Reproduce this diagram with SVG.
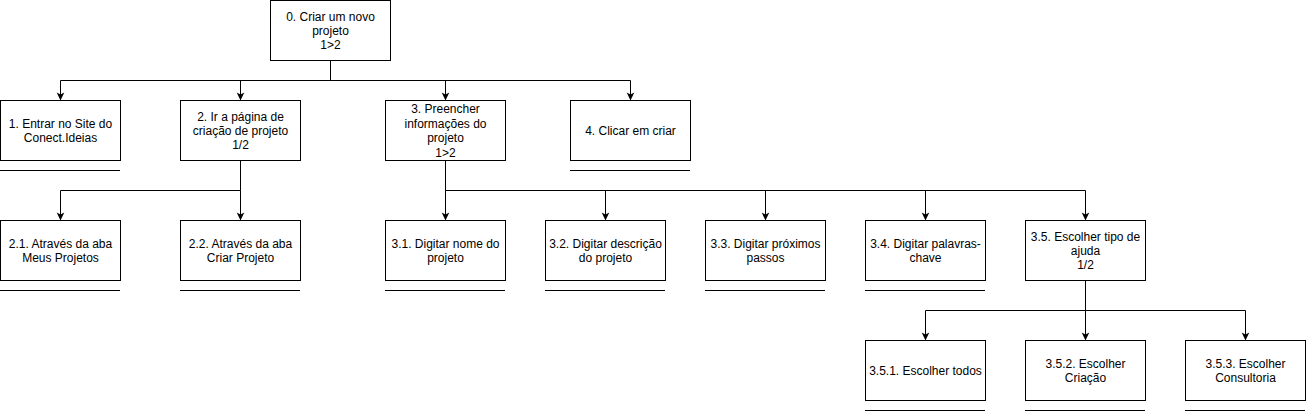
<svg xmlns="http://www.w3.org/2000/svg" width="1307" height="412" viewBox="0 0 1307 412">
<style>
.box{fill:#fff;stroke:#000;stroke-width:1}
.ul{stroke:#000;stroke-width:1;fill:none}
.c{fill:none;stroke:#000;stroke-width:1}
text{font-family:"Liberation Sans",Arial,Helvetica,sans-serif;font-size:12px;fill:#000;text-anchor:middle}
</style>
<defs>
<path id="ah" d="M0,0 l-3.8,-8 l3.8,2 l3.8,-2 z" fill="#000"/>
</defs>
<rect width="1307" height="412" fill="#fff"/>
<g id="connectors">
<path class="c" d="M330.5,60.5 V80.5 H60.5 V99.5"/>
<path class="c" d="M330.5,80.5 H240.5 V99.5"/>
<path class="c" d="M330.5,80.5 H445.5 V99.5"/>
<path class="c" d="M330.5,80.5 H630.5 V99.5"/>
<path class="c" d="M240.5,160.5 V190.5 H60.5 V219.5"/>
<path class="c" d="M240.5,190.5 V219.5"/>
<path class="c" d="M445.5,160.5 V219.5"/>
<path class="c" d="M445.5,190.5 H605.5 V219.5"/>
<path class="c" d="M445.5,190.5 H765.5 V219.5"/>
<path class="c" d="M445.5,190.5 H925.5 V219.5"/>
<path class="c" d="M445.5,190.5 H1085.5 V219.5"/>
<path class="c" d="M1085.5,280.5 V310.5 H925.5 V339.5"/>
<path class="c" d="M1085.5,310.5 V339.5"/>
<path class="c" d="M1085.5,310.5 H1245.5 V339.5"/>
<use href="#ah" x="60.5" y="100.5"/>
<use href="#ah" x="240.5" y="100.5"/>
<use href="#ah" x="445.5" y="100.5"/>
<use href="#ah" x="630.5" y="100.5"/>
<use href="#ah" x="60.5" y="220.5"/>
<use href="#ah" x="240.5" y="220.5"/>
<use href="#ah" x="445.5" y="220.5"/>
<use href="#ah" x="605.5" y="220.5"/>
<use href="#ah" x="765.5" y="220.5"/>
<use href="#ah" x="925.5" y="220.5"/>
<use href="#ah" x="1085.5" y="220.5"/>
<use href="#ah" x="925.5" y="340.5"/>
<use href="#ah" x="1085.5" y="340.5"/>
<use href="#ah" x="1245.5" y="340.5"/>
</g>
<g id="n0"><rect class="box" x="270.5" y="0.5" width="120" height="60"/>
<text x="330.5" y="20.6">0. Criar um novo</text><text x="330.5" y="35">projeto</text><text x="330.5" y="49.4">1&gt;2</text></g>
<g id="n1"><rect class="box" x="0.5" y="100.5" width="120" height="60"/><line class="ul" x1="0" y1="170.5" x2="120" y2="170.5"/>
<text x="60.5" y="127.8">1. Entrar no Site do</text><text x="60.5" y="142.2">Conect.Ideias</text></g>
<g id="n2"><rect class="box" x="180.5" y="100.5" width="120" height="60"/>
<text x="240.5" y="120.6">2. Ir a página de</text><text x="240.5" y="135">criação de projeto</text><text x="240.5" y="149.4">1/2</text></g>
<g id="n3"><rect class="box" x="385.5" y="100.5" width="120" height="60"/>
<text x="445.5" y="113.4">3. Preencher</text><text x="445.5" y="127.8">informações do</text><text x="445.5" y="142.2">projeto</text><text x="445.5" y="156.6">1&gt;2</text></g>
<g id="n4"><rect class="box" x="570.5" y="100.5" width="120" height="60"/><line class="ul" x1="570" y1="170.5" x2="690" y2="170.5"/>
<text x="630.5" y="135">4. Clicar em criar</text></g>
<g id="n2_1"><rect class="box" x="0.5" y="220.5" width="120" height="60"/><line class="ul" x1="0" y1="290.5" x2="120" y2="290.5"/>
<text x="60.5" y="247.8">2.1. Através da aba</text><text x="60.5" y="262.2">Meus Projetos</text></g>
<g id="n2_2"><rect class="box" x="180.5" y="220.5" width="120" height="60"/><line class="ul" x1="180" y1="290.5" x2="300" y2="290.5"/>
<text x="240.5" y="247.8">2.2. Através da aba</text><text x="240.5" y="262.2">Criar Projeto</text></g>
<g id="n3_1"><rect class="box" x="385.5" y="220.5" width="120" height="60"/><line class="ul" x1="385" y1="290.5" x2="505" y2="290.5"/>
<text x="445.5" y="247.8">3.1. Digitar nome do</text><text x="445.5" y="262.2">projeto</text></g>
<g id="n3_2"><rect class="box" x="545.5" y="220.5" width="120" height="60"/><line class="ul" x1="545" y1="290.5" x2="665" y2="290.5"/>
<text x="605.5" y="247.8">3.2. Digitar descrição</text><text x="605.5" y="262.2">do projeto</text></g>
<g id="n3_3"><rect class="box" x="705.5" y="220.5" width="120" height="60"/><line class="ul" x1="705" y1="290.5" x2="825" y2="290.5"/>
<text x="765.5" y="247.8">3.3. Digitar próximos</text><text x="765.5" y="262.2">passos</text></g>
<g id="n3_4"><rect class="box" x="865.5" y="220.5" width="120" height="60"/><line class="ul" x1="865" y1="290.5" x2="985" y2="290.5"/>
<text x="925.5" y="247.8">3.4. Digitar palavras-</text><text x="925.5" y="262.2">chave</text></g>
<g id="n3_5"><rect class="box" x="1025.5" y="220.5" width="120" height="60"/>
<text x="1085.5" y="240.6">3.5. Escolher tipo de</text><text x="1085.5" y="255">ajuda</text><text x="1085.5" y="269.4">1/2</text></g>
<g id="n3_5_1"><rect class="box" x="865.5" y="340.5" width="120" height="60"/><line class="ul" x1="865" y1="410.5" x2="985" y2="410.5"/>
<text x="925.5" y="375">3.5.1. Escolher todos</text></g>
<g id="n3_5_2"><rect class="box" x="1025.5" y="340.5" width="120" height="60"/><line class="ul" x1="1025" y1="410.5" x2="1145" y2="410.5"/>
<text x="1085.5" y="367.8">3.5.2. Escolher</text><text x="1085.5" y="382.2">Criação</text></g>
<g id="n3_5_3"><rect class="box" x="1185.5" y="340.5" width="120" height="60"/><line class="ul" x1="1185" y1="410.5" x2="1305" y2="410.5"/>
<text x="1245.5" y="367.8">3.5.3. Escolher</text><text x="1245.5" y="382.2">Consultoria</text></g>
</svg>
